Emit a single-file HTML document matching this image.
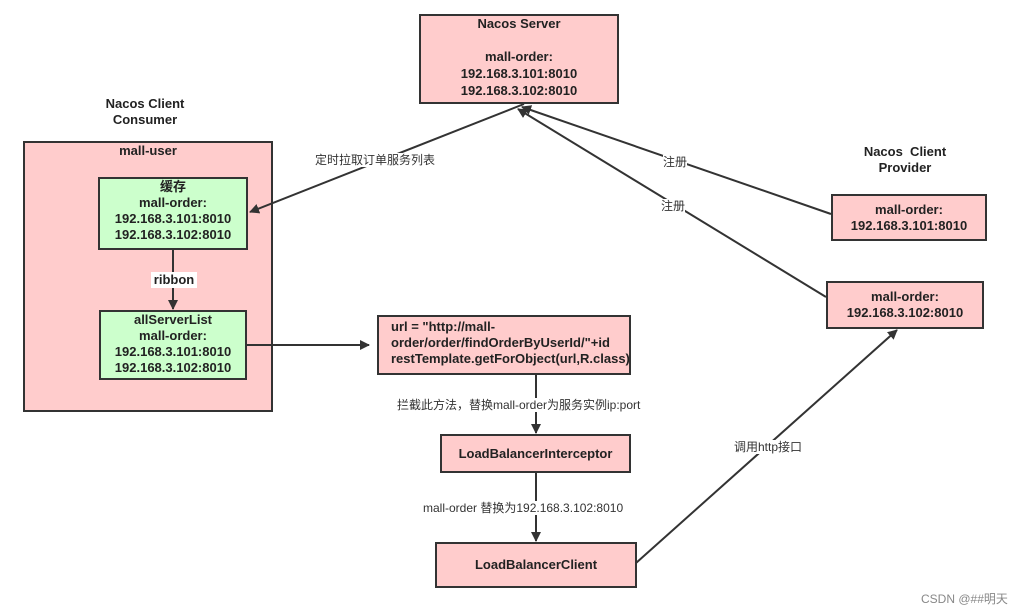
<!DOCTYPE html>
<html><head><meta charset="utf-8"><style>
body{margin:0;width:1032px;height:615px;background:#fff;position:relative;overflow:hidden;font-family:"Liberation Sans","Noto Sans CJK SC",sans-serif;}
.b{position:absolute;box-sizing:border-box;border:2px solid #333;background:#ffcccc;font-weight:bold;font-size:13px;color:#222;text-align:center;line-height:16px;}
.g{background:#ccffcc;}
.t{position:absolute;font-size:12px;color:#333;background:#fff;white-space:nowrap;line-height:14px;z-index:3;}
.h{position:absolute;font-weight:bold;font-size:13px;color:#222;text-align:center;line-height:16px;z-index:3;}
svg{z-index:2;}
</style></head><body>
<div class="b" style="left:419px;top:14px;width:200px;height:90px;padding-top:0px">Nacos Server<br><br><span style="line-height:17px">mall-order:<br>192.168.3.101:8010<br>192.168.3.102:8010</span></div>
<div class="b" style="left:23px;top:141px;width:250px;height:271px">mall-user</div>
<div class="b g" style="left:98px;top:177px;width:150px;height:73px">缓存<br>mall-order:<br>192.168.3.101:8010<br>192.168.3.102:8010</div>
<div class="b g" style="left:99px;top:310px;width:148px;height:70px">allServerList<br>mall-order:<br>192.168.3.101:8010<br>192.168.3.102:8010</div>
<div class="b" style="left:377px;top:315px;width:254px;height:60px;text-align:left;padding:2px 0 0 12px">url = "http://mall-<br>order/order/findOrderByUserId/"+id<br>restTemplate.getForObject(url,R.class)</div>
<div class="b" style="left:440px;top:434px;width:191px;height:39px;line-height:35px">LoadBalancerInterceptor</div>
<div class="b" style="left:435px;top:542px;width:202px;height:46px;line-height:42px">LoadBalancerClient</div>
<div class="b" style="left:831px;top:194px;width:156px;height:47px;padding-top:6px">mall-order:<br>192.168.3.101:8010</div>
<div class="b" style="left:826px;top:281px;width:158px;height:48px;padding-top:6px">mall-order:<br>192.168.3.102:8010</div>
<svg width="1032" height="615" style="position:absolute;left:0;top:0">
<defs><marker id="a" markerWidth="10" markerHeight="10" refX="9" refY="5" orient="auto" markerUnits="userSpaceOnUse"><path d="M0,0 L10,5 L0,10 Z" fill="#333"/></marker></defs>
<g stroke="#333" stroke-width="2" fill="none">
<line x1="524" y1="104" x2="250" y2="212" marker-end="url(#a)"/>
<line x1="831" y1="214" x2="522" y2="107" marker-end="url(#a)"/>
<line x1="826" y1="297" x2="518" y2="109" marker-end="url(#a)"/>
<line x1="173" y1="249" x2="173" y2="309" marker-end="url(#a)"/>
<line x1="246" y1="345" x2="369" y2="345" marker-end="url(#a)"/>
<line x1="536" y1="374" x2="536" y2="433" marker-end="url(#a)"/>
<line x1="536" y1="472" x2="536" y2="541" marker-end="url(#a)"/>
<line x1="636" y1="563" x2="897" y2="330" marker-end="url(#a)"/>
</g></svg>
<div class="h" style="left:90px;top:96px;width:110px">Nacos Client<br>Consumer</div>
<div class="h" style="left:151px;top:272px;width:46px;background:#fff">ribbon</div>
<div class="h" style="left:840px;top:144px;width:130px">Nacos&nbsp; Client<br>Provider</div>
<div class="t" style="left:315px;top:153px">定时拉取订单服务列表</div>
<div class="t" style="left:663px;top:155px">注册</div>
<div class="t" style="left:661px;top:199px">注册</div>
<div class="t" style="left:397px;top:398px">拦截此方法，替换mall-order为服务实例ip:port</div>
<div class="t" style="left:423px;top:501px">mall-order 替换为192.168.3.102:8010</div>
<div class="t" style="left:734px;top:440px">调用http接口</div>
<div class="t" style="left:921px;top:592px;color:#888">CSDN @##明天</div>
</body></html>
